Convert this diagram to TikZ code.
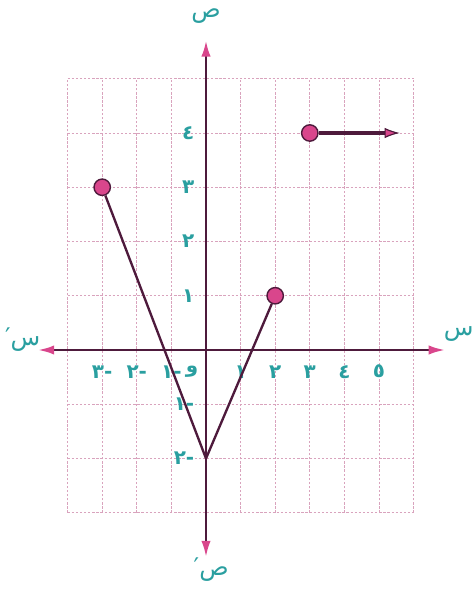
\documentclass[tikz,border=0pt]{standalone}
\usepackage{fontspec}
\newfontfamily\arabicfont[Script=Arabic]{DejaVu Sans}
\TeXXeTstate=1
\usetikzlibrary{arrows.meta}
\definecolor{axisline}{HTML}{4E1A3C}
\definecolor{tippink}{HTML}{D9468C}
\definecolor{gridpink}{HTML}{D9A3BD}
\definecolor{labelteal}{HTML}{2A9FA0}
\tikzset{
  gridline/.style={gridpink, dash pattern=on 2pt off 1.5pt, line width=0.7pt},
  axis/.style={axisline, line width=2.2pt,
    {Latex[length=14pt,width=8pt,color=tippink]}-{Latex[length=14pt,width=8pt,color=tippink]}},
  graphline/.style={axisline, line width=2pt},
  raypath/.style={axisline, line width=2.6pt, -{Latex[length=13pt,width=9pt,fill=tippink,line width=1pt]}},
  dotpt/.style={circle, draw=axisline, fill=tippink, line width=1.2pt, minimum size=14pt, inner sep=0pt},
  ticklabel/.style={labelteal, font=\arabicfont\bfseries\fontsize{17}{19}\selectfont, inner sep=1pt},
  axislabel/.style={labelteal, font=\arabicfont\huge},
}

\begin{document}
\begin{tikzpicture}[x=1.038cm, y=1.6275cm]
  \useasboundingbox (-6.18cm,-7.32cm) rectangle (7.98cm,10.5cm);
  % Grid
  \foreach \c in {-4,...,6}
    \draw[gridline] (\c,-3) -- (\c,5);
  \foreach \r in {-3,...,5}
    \draw[gridline] (-4,\r) -- (6,\r);
  % Axes
  \coordinate (xl) at (-4.86,0);
  \coordinate (xr) at (6.91,0);
  \coordinate (yb) at (0,-3.82);
  \coordinate (yt) at (0,5.71);
  \draw[axis] (xl) -- (xr);
  \draw[axis] (yb) -- (yt);
  \node[axislabel] (xlab) at (7.3,0.3) {\beginR س\endR};
  \node[axislabel] (xneglab) at (-5.3,0.2) {\beginR س′\endR};
  \node[axislabel] (ylab) at (0,6.15) {\beginR ص\endR};
  \node[axislabel] (yneglab) at (0.15,-4.05) {\beginR ص′\endR};
  % Ticks
  \foreach \x/\d in {-3/٣, -2/٢, -1/١}
    \node[ticklabel] (xt\x) at (\x,-0.4) {\hbox{\d}\hbox{-}};
  \foreach \x/\d in {1/١, 2/٢, 3/٣, 4/٤, 5/٥}
    \node[ticklabel] (xt\x) at (\x,-0.4) {\d};
  \node[ticklabel] (origin) at (-0.4,-0.4) {و};
  \foreach \y/\d in {4/٤, 3/٣, 2/٢, 1/١}
    \node[ticklabel, anchor=east] (yt\y) at (-0.3,\y) {\d};
  \foreach \y/\d in {-1/١, -2/٢}
    \node[ticklabel, anchor=east] (yt\y) at (-0.3,\y) {\hbox{\d}\hbox{-}};
  % Graph
  \node[dotpt] (p1) at (-3,3) {};
  \node[dotpt] (p2) at (2,1) {};
  \node[dotpt] (p3) at (3,4) {};
  \coordinate (v) at (0,-2);
  \coordinate (rayend) at (5.6,4);
  \draw[graphline] (p1) -- (v) -- (p2);
  \draw[raypath] (p3) -- (rayend);
\end{tikzpicture}
\end{document}
